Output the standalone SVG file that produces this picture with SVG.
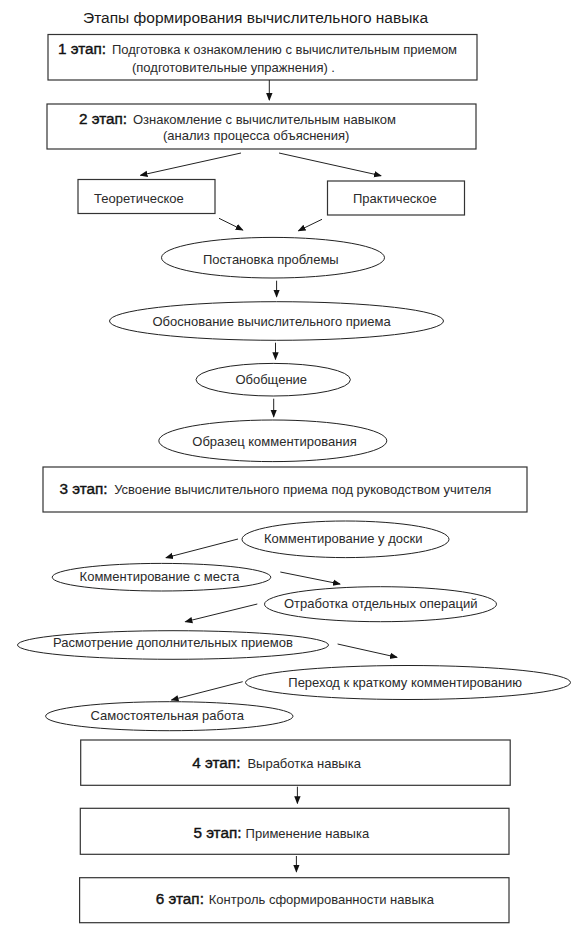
<svg xmlns="http://www.w3.org/2000/svg" width="572" height="926" viewBox="0 0 572 926">
<style>
text{font-family:"Liberation Sans",Arial,sans-serif;fill:#1a1a1a}
.t{font-size:13px;fill:#2a2a2a}
.s{font-size:15.3px;stroke:#111;stroke-width:0.4;fill:#111}
.title{font-size:15.5px}
.box{fill:#fff;stroke:#333;stroke-width:1.2}
.ell{fill:#fff;stroke:#222;stroke-width:1}
.c line{stroke:#222;stroke-width:1;marker-end:url(#ah)}
</style>
<defs>
<marker id="ah" markerUnits="userSpaceOnUse" markerWidth="8" markerHeight="8" viewBox="0 0 8 8" refX="7" refY="4" orient="auto">
<path d="M0,0.8 L8,4 L0,7.2 Z" fill="#111"/>
</marker>
</defs>
<rect width="572" height="926" fill="#fff"/>
<text class="title" x="83" y="23">Этапы формирования вычислительного навыка</text>

<g id="stage1">
<rect class="box" x="48" y="34.5" width="429" height="45.5"/>
<text class="s" x="58" y="54">1 этап:</text>
<text class="t" x="112" y="54">Подготовка к ознакомлению с  вычислительным приемом</text>
<text class="t" x="132" y="71.5">(подготовительные упражнения) .</text>
</g>
<g id="stage2">
<rect class="box" x="47" y="104" width="429" height="45"/>
<text class="s" x="79" y="124">2 этап:</text>
<text class="t" x="133" y="124">Ознакомление с вычислительным навыком</text>
<text class="t" x="163" y="140">(анализ процесса объяснения)</text>
</g>
<g id="theory">
<rect class="box" x="78" y="179.5" width="137" height="34"/>
<text class="t" x="94" y="202.5">Теоретическое</text>
</g>
<g id="practice">
<rect class="box" x="327.5" y="181" width="137" height="34"/>
<text class="t" x="353" y="202.5">Практическое</text>
</g>
<g id="problem">
<ellipse class="ell" cx="273" cy="257.7" rx="111.5" ry="20.3"/>
<text class="t" x="203" y="264">Постановка проблемы</text>
</g>
<g id="justification">
<ellipse class="ell" cx="276.5" cy="321" rx="167" ry="19.3"/>
<text class="t" x="152.5" y="325.5">Обоснование вычислительного приема</text>
</g>
<g id="generalization">
<ellipse class="ell" cx="273.2" cy="379.7" rx="77.2" ry="16.3"/>
<text class="t" x="235.4" y="384">Обобщение</text>
</g>
<g id="sample">
<ellipse class="ell" cx="272.8" cy="440.8" rx="114" ry="20.8"/>
<text class="t" x="192.3" y="446">Образец комментирования</text>
</g>
<g id="stage3">
<rect class="box" x="43" y="467" width="484" height="45"/>
<text class="s" x="59.5" y="494.3">3 этап:</text>
<text class="t" x="114.2" y="494.3">Усвоение вычислительного приема под руководством учителя</text>
</g>
<g id="board">
<ellipse class="ell" cx="345.5" cy="539.3" rx="103.5" ry="18.3"/>
<text class="t" x="264" y="543.3">Комментирование у доски</text>
</g>
<g id="place">
<ellipse class="ell" cx="161.5" cy="577.2" rx="109.3" ry="13.8"/>
<text class="t" x="79.6" y="580.7">Комментирование с места</text>
</g>
<g id="operations">
<ellipse class="ell" cx="380.5" cy="604.2" rx="116" ry="17.5"/>
<text class="t" x="284" y="608.3">Отработка отдельных операций</text>
</g>
<g id="additional">
<ellipse class="ell" cx="173" cy="645" rx="155.5" ry="14.3"/>
<text class="t" x="53" y="647">Расмотрение дополнительных приемов</text>
</g>
<g id="short">
<ellipse class="ell" cx="408" cy="682.5" rx="162.5" ry="17"/>
<text class="t" x="288.3" y="687">Переход к краткому комментированию</text>
</g>
<g id="independent">
<ellipse class="ell" cx="169.3" cy="716.2" rx="123.7" ry="14.5"/>
<text class="t" x="90.5" y="720">Самостоятельная работа</text>
</g>
<g id="stage4">
<rect class="box" x="80.7" y="740" width="429.5" height="45.3"/>
<text class="s" x="192.3" y="768.3">4 этап:</text>
<text class="t" x="247.4" y="768.3">Выработка навыка</text>
</g>
<g id="stage5">
<rect class="box" x="80.3" y="808.3" width="428.7" height="46"/>
<text class="s" x="193.4" y="838.3">5 этап:</text>
<text class="t" x="245.6" y="838.3">Применение навыка</text>
</g>
<g id="stage6">
<rect class="box" x="79.6" y="877.7" width="429.4" height="45"/>
<text class="s" x="155.8" y="904">6 этап:</text>
<text class="t" x="208.8" y="904">Контроль сформированности навыка</text>
</g>

<g id="connectors" class="c">
<line x1="269.3" y1="80" x2="269.3" y2="100"/>
<line x1="241" y1="153" x2="140.5" y2="175.3"/>
<line x1="279" y1="153" x2="381" y2="175.7"/>
<line x1="219" y1="218.3" x2="242.7" y2="230"/>
<line x1="322" y1="219.3" x2="298.5" y2="230.7"/>
<line x1="276.6" y1="280.7" x2="276.6" y2="296.7"/>
<line x1="275.5" y1="342.7" x2="275.5" y2="359.3"/>
<line x1="273.7" y1="398.7" x2="273.7" y2="416.7"/>
<line x1="238" y1="539" x2="166" y2="557.7"/>
<line x1="280.3" y1="572" x2="340" y2="584"/>
<line x1="257.3" y1="604" x2="185.4" y2="621.7"/>
<line x1="337.6" y1="644" x2="397" y2="657.3"/>
<line x1="242.7" y1="681.7" x2="171.5" y2="700"/>
<line x1="297.4" y1="786.7" x2="297.4" y2="803.3"/>
<line x1="296.4" y1="856" x2="296.4" y2="871.7"/>
</g>
</svg>
